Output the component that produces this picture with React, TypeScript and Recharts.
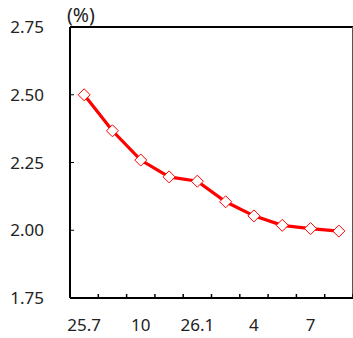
import { LineChart, Line, XAxis, YAxis, ReferenceLine, Label } from 'recharts'

const labels = ['25.7', '', '10', '', '26.1', '', '4', '', '7', '']
const rates = [2.5, 2.367, 2.259, 2.197, 2.181, 2.105, 2.053, 2.018, 2.006, 1.997]
const yTicks = [1.75, 2.0, 2.25, 2.5, 2.75]
const unit = '(%)'

const data = labels.map((l, i) => ({ key: 'p' + i, label: l, rate: rates[i] }))

const W = 353
const H = 338
const LEFT = 70
const BAND = (W - LEFT) / data.length
const FONT = '"Noto Sans", sans-serif'

const Diamond = (props: any) => {
  const { cx, cy } = props
  if (cx == null || cy == null) return null
  const r = 6
  return (
    <polygon
      points={`${cx},${cy - r} ${cx + r},${cy} ${cx},${cy + r} ${cx - r},${cy}`}
      fill="#fff"
      stroke="#ff0000"
      strokeWidth={1}
    />
  )
}

const XTick = (props: any) => {
  const { x, y, index } = props
  const d = data[index]
  return (
    <g>
      <line x1={x + BAND / 2} x2={x + BAND / 2} y1={y} y2={y - 4} stroke="#000" strokeWidth={1.5} />
      <text x={x} y={y + 33} textAnchor="middle" style={{ fontSize: 17, fontFamily: FONT }} fill="#222">
        {d ? d.label : ''}
      </text>
    </g>
  )
}

const UnitLabel = (p: any) => {
  const vb = p.viewBox || { x: 0, y: 27, width: LEFT }
  return (
    <text x={vb.x + vb.width - 3} y={vb.y - 5} fill="#222" style={{ fontSize: 19.5, fontFamily: FONT }}>
      {unit}
    </text>
  )
}

export default function App() {
  return (
    <div style={{ position: 'absolute', left: 0, top: 0, background: '#fff' }}>
      <LineChart width={W} height={H} data={data} margin={{ top: 27, right: 0, bottom: 0, left: 0 }}>
        <XAxis
          dataKey="key"
          scale="band"
          height={40}
          interval={0}
          tickLine={false}
          tickSize={0}
          tickMargin={0}
          axisLine={{ stroke: '#000', strokeWidth: 2 }}
          tick={<XTick />}
        />
        <YAxis
          width={LEFT}
          domain={[1.75, 2.75]}
          ticks={yTicks}
          interval={0}
          tickFormatter={(v: number) => v.toFixed(2)}
          tickSize={-4}
          tickMargin={30}
          axisLine={{ stroke: '#000', strokeWidth: 2 }}
          tickLine={{ stroke: '#000', strokeWidth: 1 }}
          tick={{ fontSize: 17, fill: '#222', fontFamily: FONT }}
        >
          <Label content={<UnitLabel />} />
        </YAxis>
        <ReferenceLine y={2.75} stroke="#000" strokeWidth={2} />
        <ReferenceLine x={data[data.length - 1].key} position="end" stroke="#555" strokeWidth={2} ifOverflow="visible" />
        <Line
          dataKey="rate"
          stroke="#ff0000"
          strokeWidth={3.2}
          dot={<Diamond />}
          activeDot={false}
          isAnimationActive={false}
        />
      </LineChart>
    </div>
  )
}
